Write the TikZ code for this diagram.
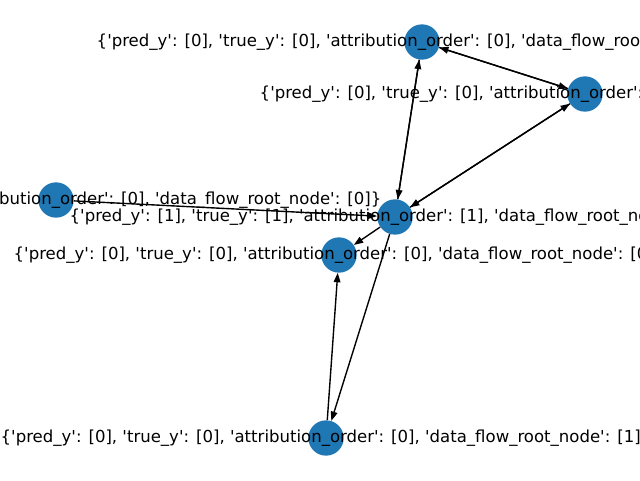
\documentclass[tikz,border=0pt]{standalone}
\usepackage{fontspec}
\newfontfamily\labfont{DejaVu Sans}[Mapping=]
\usetikzlibrary{arrows.meta}
\definecolor{nxblue}{HTML}{1F77B4}
\newcommand{\attrs}[4]{\{'pred\_y': [#1], 'true\_y': [#2], 'attribution\_order': [#3], 'data\_flow\_root\_node': [#4]\}}
\begin{document}
\begin{tikzpicture}[x=0.75pt,y=-0.75pt,
  vert/.style={circle,fill=nxblue,draw=none,minimum size=26.5pt,inner sep=0pt},
  lab/.style={inner sep=0pt,font=\labfont\fontsize{12.4pt}{14pt}\selectfont,anchor=center},
  edge/.style={draw=black,line width=1.04pt,-{Triangle[length=7pt,width=5pt]},shorten >=0pt}]
\useasboundingbox (0,0) rectangle (640,480);
\clip (0,0) rectangle (640,480);
\node[vert] (A) at (422,42) {};
\node[vert] (B) at (585,94) {};
\node[vert] (C) at (56,200) {};
\node[vert] (D) at (395,217) {};
\node[vert] (E) at (339,255) {};
\node[vert] (F) at (326,438) {};
\draw[edge] (A) -- (B);
\draw[edge] (B) -- (A);
\draw[edge] (A) -- (D);
\draw[edge] (D) -- (A);
\draw[edge] (B) -- (D);
\draw[edge] (D) -- (B);
\draw[edge] (C) -- (D);
\draw[edge] (D) -- (E);
\draw[edge] (D) -- (F);
\draw[edge] (F) -- (E);
\node[lab] (Al) at (A) {\attrs{0}{0}{0}{0}};
\node[lab] (Bl) at (B) {\attrs{0}{0}{0}{0}};
\node[lab] (Cl) at (C) {\attrs{0}{0}{0}{0}};
\node[lab] (Dl) at (D) {\attrs{1}{1}{1}{0}};
\node[lab] (El) at (E) {\attrs{0}{0}{0}{0}};
\node[lab] (Fl) at (F) {\attrs{0}{0}{0}{1}};
\end{tikzpicture}
\end{document}
